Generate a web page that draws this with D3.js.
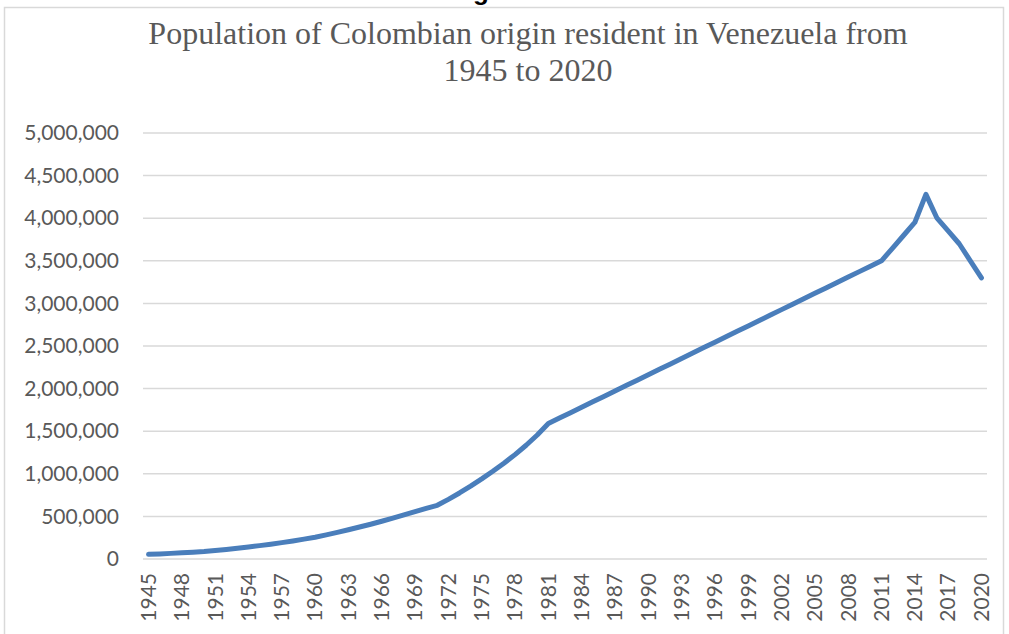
<!DOCTYPE html>
<html>
<head>
<meta charset="utf-8">
<script src="https://cdn.jsdelivr.net/npm/d3@7/dist/d3.min.js"></script>
<style>
  html, body { margin: 0; padding: 0; background: #ffffff; }
  svg { display: block; }
</style>
</head>
<body>
<svg id="chart" width="1009" height="634"></svg>
<script>
// Colombian-born population living in Venezuela, one value per year
const years = [
  1945, 1946, 1947, 1948, 1949, 1950, 1951, 1952, 1953, 1954,
  1955, 1956, 1957, 1958, 1959, 1960, 1961, 1962, 1963, 1964,
  1965, 1966, 1967, 1968, 1969, 1970, 1971, 1972, 1973, 1974,
  1975, 1976, 1977, 1978, 1979, 1980, 1981, 1982, 1983, 1984,
  1985, 1986, 1987, 1988, 1989, 1990, 1991, 1992, 1993, 1994,
  1995, 1996, 1997, 1998, 1999, 2000, 2001, 2002, 2003, 2004,
  2005, 2006, 2007, 2008, 2009, 2010, 2011, 2012, 2013, 2014,
  2015, 2016, 2017, 2018, 2019, 2020
];
const population = [
  55000, 60000, 66000, 72000, 80000, 88000, 99000, 112000, 126000, 141000,
  157000, 174000, 192000, 212000, 233000, 256000, 283000, 312000, 343000, 375000,
  408000, 443000, 480000, 518000, 557000, 595000, 630000, 700000, 775000, 855000,
  940000, 1030000, 1125000, 1225000, 1335000, 1455000, 1590000, 1654000, 1717000, 1781000,
  1845000, 1908000, 1972000, 2036000, 2099000, 2163000, 2227000, 2290000, 2354000, 2418000,
  2481000, 2545000, 2609000, 2672000, 2736000, 2800000, 2863000, 2927000, 2991000, 3054000,
  3118000, 3182000, 3245000, 3309000, 3373000, 3436000, 3500000, 3650000, 3800000, 3950000,
  4280000, 4000000, 3850000, 3700000, 3500000, 3300000
];
const yTicks = [0, 500000, 1000000, 1500000, 2000000, 2500000, 3000000, 3500000, 4000000, 4500000, 5000000];
const labelYears = years.filter((y, i) => i % 3 === 0);
const titleLines = ["Population of Colombian origin resident in Venezuela from", "1945 to 2020"];

const svg = d3.select("#chart");
const plot = { left: 143, right: 987, top: 133, bottom: 559 };

// outer frame of the chart area
svg.append("path")
  .attr("d", "M4.5,634 L4.5,7.5 L1003.5,7.5 L1003.5,634")
  .attr("fill", "none")
  .attr("stroke", "#d9d9d9")
  .attr("stroke-width", 1.5);

// descender of the heading above the frame
svg.append("text")
  .attr("x", 481).attr("y", 0)
  .attr("text-anchor", "middle")
  .attr("font-family", "Liberation Sans, Arial, sans-serif")
  .attr("font-weight", "bold")
  .attr("font-size", 26)
  .attr("fill", "#000")
  .text("g");

// title
svg.append("g").selectAll("text")
  .data(titleLines)
  .join("text")
  .attr("x", 528)
  .attr("y", (d, i) => 44 + i * 37)
  .attr("text-anchor", "middle")
  .attr("font-family", "Liberation Serif, Times New Roman, serif")
  .attr("font-size", 32)
  .attr("fill", "#595959")
  .text(d => d);

const x = d3.scaleBand()
  .domain(years)
  .range([plot.left, plot.right])
  .padding(0);
const cx = d => x(d) + x.bandwidth() / 2;

const y = d3.scaleLinear()
  .domain([0, 5000000])
  .range([plot.bottom, plot.top]);

// horizontal gridlines
svg.append("g").selectAll("line")
  .data(yTicks)
  .join("line")
  .attr("x1", plot.left).attr("x2", plot.right)
  .attr("y1", d => y(d)).attr("y2", d => y(d))
  .attr("stroke", "#d9d9d9")
  .attr("stroke-width", 1.5);

// y axis labels
const yAxis = d3.axisLeft(y)
  .tickValues(yTicks)
  .tickSize(0)
  .tickPadding(0)
  .tickFormat(d3.format(","));
svg.append("g")
  .attr("transform", `translate(119,0)`)
  .call(yAxis)
  .call(g => g.select(".domain").remove())
  .call(g => g.selectAll("text")
    .attr("font-family", "Lato, Calibri, sans-serif")
    .attr("font-size", 21)
    .attr("fill", "#595959"));

// x axis labels, rotated
svg.append("g").selectAll("text")
  .data(labelYears)
  .join("text")
  .attr("transform", d => `translate(${cx(d)},573) rotate(-90)`)
  .attr("text-anchor", "end")
  .attr("dy", "0.35em")
  .attr("font-family", "Lato, Calibri, sans-serif")
  .attr("font-size", 21)
  .attr("fill", "#595959")
  .text(d => d);

// series line
const line = d3.line()
  .x((d, i) => cx(years[i]))
  .y(d => y(d));
svg.append("path")
  .datum(population)
  .attr("d", line)
  .attr("fill", "none")
  .attr("stroke", "#4a7ebb")
  .attr("stroke-width", 5)
  .attr("stroke-linejoin", "round")
  .attr("stroke-linecap", "round");
</script>
</body>
</html>
